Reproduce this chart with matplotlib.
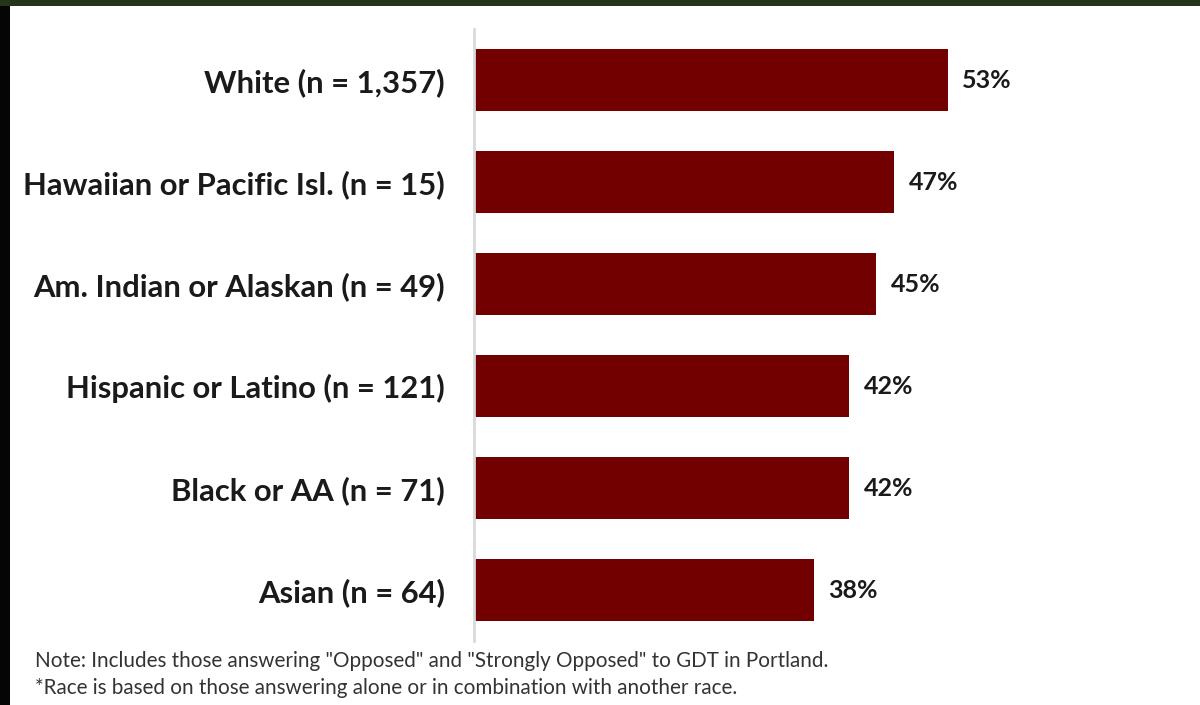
import matplotlib.pyplot as plt
from matplotlib.patches import Rectangle

# Share opposed to GDT, by race
groups = ['White (n = 1,357)', 'Hawaiian or Pacific Isl. (n = 15)',
          'Am. Indian or Alaskan (n = 49)', 'Hispanic or Latino (n = 121)',
          'Black or AA (n = 71)', 'Asian (n = 64)']
pct = [53, 47, 45, 42, 42, 38]

notes = ['Note: Includes those answering "Opposed" and "Strongly Opposed" to GDT in Portland.',
         '*Race is based on those answering alone or in combination with another race.']

plt.rcParams['font.family'] = ['Lato', 'DejaVu Sans']

fig = plt.figure(figsize=(12, 7.05), dpi=100)
fig.patches.append(Rectangle((0, 0.991), 1, 0.009, transform=fig.transFigure,
                             facecolor='#263418', edgecolor='none'))
fig.patches.append(Rectangle((0, 0), 10 / 1200, 0.991, transform=fig.transFigure,
                             facecolor='#050505', edgecolor='none'))

ax = fig.add_axes([474 / 1200, 1 - 641 / 705, (60 * 8.94) / 1200, 612 / 705])
ypos = list(range(len(groups)))
ax.barh(ypos, pct, height=0.61, color='#730000')
ax.set_xlim(0, 60)
ax.set_ylim(len(groups) - 0.5, -0.5)

for y, v in zip(ypos, pct):
    ax.text(v + 1.6, y, f'{v}%', va='center', ha='left', fontsize=18,
            fontweight='bold', color='#1a1a1a')

ax.set_yticks(ypos)
ax.set_yticklabels(groups, fontsize=22.3, fontweight='bold', color='#1a1a1a')
ax.tick_params(axis='y', length=0, pad=21)
ax.set_xticks([])
for s in ['top', 'right', 'bottom']:
    ax.spines[s].set_visible(False)
ax.spines['left'].set_color('#d9d9d9')
ax.spines['left'].set_linewidth(2)

fig.text(35 / 1200, 1 - 661 / 705, notes[0], fontsize=14.9, color='#333333', va='center')
fig.text(35 / 1200, 1 - 688 / 705, notes[1], fontsize=14.9, color='#333333', va='center')

fig.savefig('out.png', dpi=100)
